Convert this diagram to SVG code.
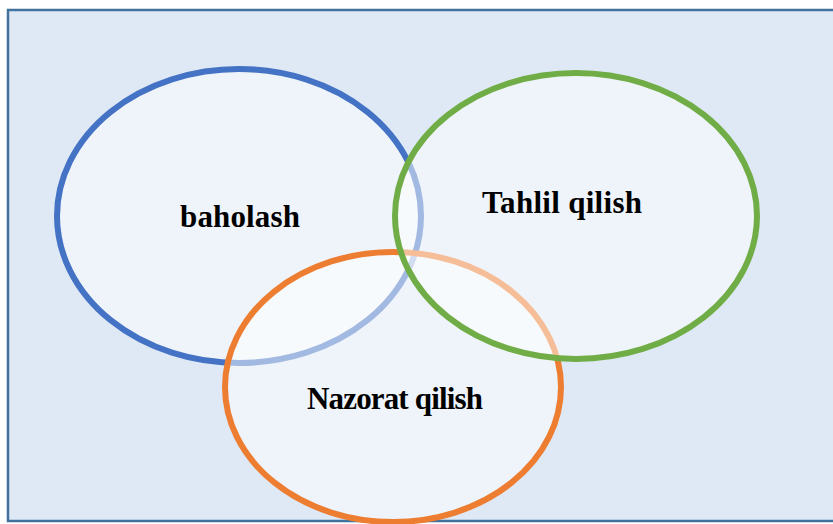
<svg xmlns="http://www.w3.org/2000/svg" width="833" height="524" viewBox="0 0 833 524">
  <style>
    .frame { fill: #dfe9f5; stroke: #41719c; stroke-width: 2.5; }
    .set { fill: #ffffff; fill-opacity: 0.5; stroke-width: 6; }
    .label { font-family: "Liberation Serif", "Times New Roman", serif; font-weight: bold; font-size: 31px; fill: #000000; text-anchor: middle; }
  </style>
  <rect class="frame" x="8" y="10" width="830" height="511"/>
  <g id="baholash">
    <ellipse class="set" cx="239" cy="216" rx="182" ry="147" stroke="#4472c4"/>
    <text class="label" x="240" y="227" textLength="120" lengthAdjust="spacing">baholash</text>
  </g>
  <g id="nazorat">
    <ellipse class="set" cx="393" cy="387" rx="168" ry="135" stroke="#ed7d31"/>
    <text class="label" x="395" y="409" textLength="176" lengthAdjust="spacing">Nazorat qilish</text>
  </g>
  <g id="tahlil">
    <ellipse class="set" cx="576" cy="216" rx="181" ry="143" stroke="#70ad47"/>
    <text class="label" x="562" y="213" textLength="160" lengthAdjust="spacing">Tahlil qilish</text>
  </g>
  <g id="connectors"/>
</svg>
